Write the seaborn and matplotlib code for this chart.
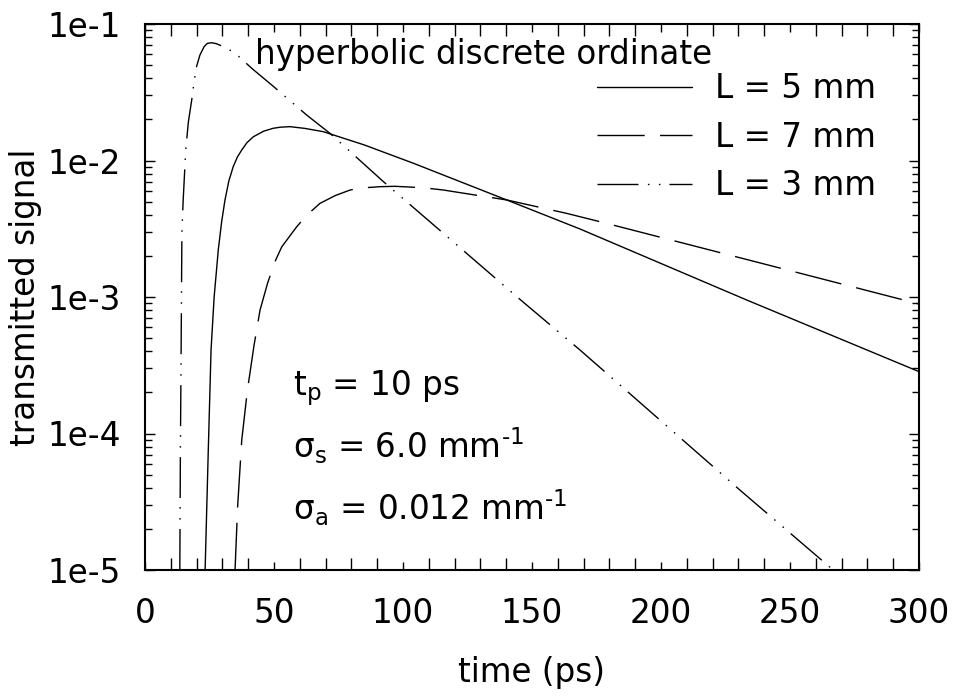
import matplotlib
matplotlib.use("Agg")
import matplotlib.pyplot as plt
import seaborn as sns
from matplotlib.ticker import MultipleLocator, LogLocator, NullFormatter

# ---- data ----
t_L5 = [23.3, 24.5, 25.6, 26.8, 28.4, 29.7, 31.0, 32.5, 34.2, 35.8, 37.5, 39.5,
        42.0, 46.0, 49.7, 52.5, 56.2, 62.0, 69.1, 85.0, 104.0, 140.2, 168.6,
        233.2, 300.0]
s_L5 = [1.0e-5, 7.19e-5, 4.09e-4, 1.0e-3, 2.21e-3, 3.55e-3, 5.14e-3, 7.08e-3,
        9.02e-3, 1.06e-2, 1.194e-2, 1.35e-2, 1.493e-2, 1.64e-2, 1.722e-2,
        1.754e-2, 1.77e-2, 1.718e-2, 1.626e-2, 1.30e-2, 9.55e-3, 5.14e-3,
        3.15e-3, 9.51e-4, 2.84e-4]

t_L7 = [34.9, 35.9, 37.5, 39.7, 42.3, 44.6, 47.5, 50.4, 53.0, 58.8, 62.5, 67.8,
        73.6, 79.5, 85.0, 91.1, 97.0, 104.0, 110.0, 115.6, 125.0, 140.2, 163.4,
        176.4, 259.0, 300.0]
s_L7 = [1.0e-5, 2.91e-5, 8.95e-5, 2.08e-4, 4.47e-4, 8.04e-4, 1.26e-3, 1.82e-3,
        2.33e-3, 3.27e-3, 3.94e-3, 4.85e-3, 5.52e-3, 6.08e-3, 6.31e-3, 6.43e-3,
        6.47e-3, 6.37e-3, 6.25e-3, 6.08e-3, 5.70e-3, 5.14e-3, 4.10e-3, 3.56e-3,
        1.41e-3, 8.89e-4]

t_L3 = [13.5, 13.7, 14.0, 14.3, 14.8, 15.8, 16.8, 18.1, 19.0, 20.0, 21.3, 22.9,
        24.2, 25.8, 27.5, 31.0, 35.0, 41.4, 50.0, 62.7, 71.7, 92.4, 145.3, 168.6,
        230.6, 266.2]
s_L3 = [1.0e-5, 6.46e-5, 4.07e-4, 2.95e-3, 5.13e-3, 1.20e-2, 1.91e-2, 2.77e-2,
        3.76e-2, 4.90e-2, 5.93e-2, 6.82e-2, 7.22e-2, 7.29e-2, 7.19e-2, 6.76e-2,
        6.10e-2, 4.73e-2, 3.46e-2, 2.15e-2, 1.58e-2, 7.0e-3, 9.62e-4, 4.09e-4,
        3.85e-5, 1.02e-5]

series_labels = ["L = 5 mm", "L = 7 mm", "L = 3 mm"]
x_ticks = [0, 50, 100, 150, 200, 250, 300]
y_ticks = [1e-5, 1e-4, 1e-3, 1e-2, 1e-1]
y_tick_labels = ["1e-5", "1e-4", "1e-3", "1e-2", "1e-1"]
title_text = "hyperbolic discrete ordinate"
param_texts = ["t$_\\mathregular{p}$ = 10 ps",
               "σ$_\\mathregular{s}$ = 6.0 mm$^\\mathregular{\u20101}$",
               "σ$_\\mathregular{a}$ = 0.012 mm$^\\mathregular{\u20101}$"]

# ---- style ----
sns.set_style("ticks")
plt.rcParams["font.family"] = ["DejaVu Sans"]
plt.rcParams["mathtext.fontset"] = "dejavusans"
for k in ["text.color", "axes.labelcolor", "xtick.color", "ytick.color", "axes.edgecolor"]:
    plt.rcParams[k] = "black"
FS = 23.5

W, H = 958, 698
fig = plt.figure(figsize=(W / 100, H / 100), dpi=100)
L, R, T, B = 145, 919, 24, 570
ax = fig.add_axes([L / W, 1 - B / H, (R - L) / W, (B - T) / H])

styles = ["-", (0, (34, 11)), (0, (29.5, 6.8, 1.1, 6.8, 1.1, 6.5))]
for tx, sx, lab, ls in zip([t_L5, t_L7, t_L3], [s_L5, s_L7, s_L3], series_labels, styles):
    sns.lineplot(x=tx, y=sx, ax=ax, color="black", linewidth=1.0, linestyle=ls,
                 label=lab, sort=False, estimator=None)

ax.set_yscale("log")
ax.set_xlim(0, 300)
ax.set_ylim(1e-5, 1e-1)
ax.set_xticks(x_ticks)
ax.set_xticklabels([str(v) for v in x_ticks])
ax.xaxis.set_minor_locator(MultipleLocator(10))
ax.set_yticks(y_ticks)
ax.set_yticklabels(y_tick_labels)
ax.yaxis.set_minor_locator(LogLocator(base=10, subs=[2, 3, 4, 5, 6, 7, 8, 9]))
ax.yaxis.set_minor_formatter(NullFormatter())

for sp in ax.spines.values():
    sp.set_visible(True)
    sp.set_linewidth(1.5)
    sp.set_color("black")

ax.tick_params(axis="both", which="both", direction="in", top=True, right=True,
               width=1.0, color="black", labelsize=FS, labelcolor="black")
ax.tick_params(axis="x", which="major", length=6, pad=19.5)
ax.tick_params(axis="x", which="minor", length=8.3)
ax.tick_params(axis="y", which="major", length=7.2, pad=17.5)
ax.tick_params(axis="y", which="minor", length=5)

ax.set_xlabel("time (ps)", fontsize=FS, labelpad=19)
ax.set_ylabel("transmitted signal", fontsize=FS, labelpad=4)

leg = ax.legend(loc="upper left", bbox_to_anchor=(597 / W, 1 - 72 / H),
                bbox_transform=fig.transFigure, frameon=False, fontsize=FS,
                handlelength=2.9, handletextpad=0.73, labelspacing=0.48,
                borderpad=0, borderaxespad=0)

fig.text(255 / W, 1 - 64 / H, title_text, fontsize=FS, ha="left", va="baseline")
for txt, yb in zip(param_texts, [395, 458, 520]):
    fig.text(293 / W, 1 - yb / H, txt, fontsize=FS, ha="left", va="baseline")

fig.savefig("out.png", dpi=100, facecolor="white")
